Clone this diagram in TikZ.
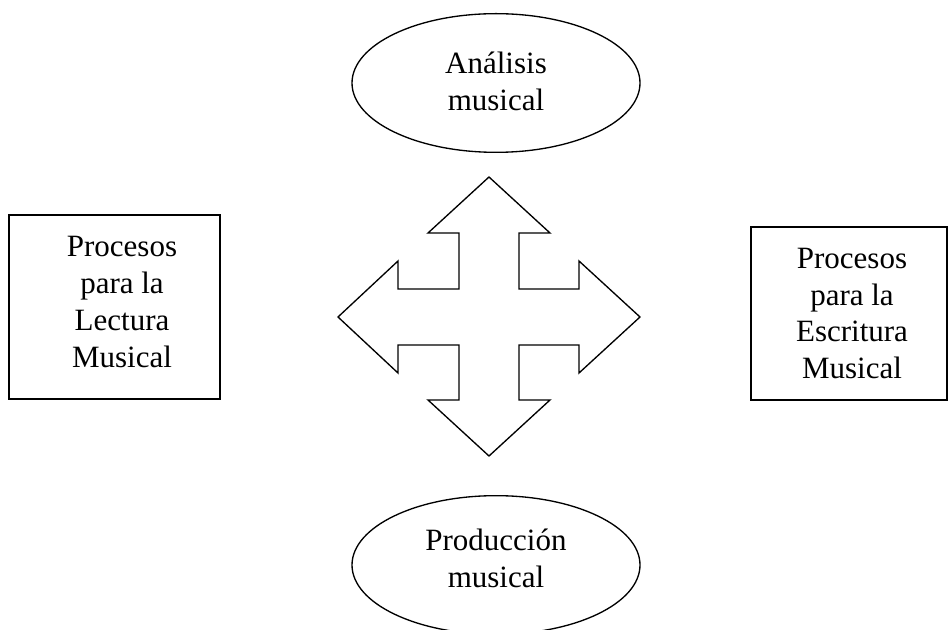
\documentclass[tikz,border=0pt]{standalone}
\usepackage{fontspec}
\setmainfont{Liberation Serif}
\usetikzlibrary{shapes.geometric}
\tikzset{
  txt/.style={align=center, inner sep=0pt, font=\fontsize{23.25}{27.6}\selectfont},
  oval/.style={draw, line width=1pt, ellipse, minimum width=216pt, minimum height=104pt},
  proc/.style={draw, line width=1.2pt, rectangle}
}
\begin{document}
\begin{tikzpicture}[x=0.75pt,y=-0.75pt]
    \useasboundingbox (0,0) rectangle (949,630);
    \clip (0,0) rectangle (949,630);
    % ovals
    \node[oval] (analisis) at (496,83) {};
    \node[txt] (analisistxt) at ([shift={(0,-2)}]analisis.center) {Análisis\\musical};
    \node[oval] (produccion) at (496,565) {};
    \node[txt] (producciontxt) at ([shift={(0,-7)}]produccion.center) {Producción\\musical};
    % boxes
    \node[proc, minimum width=158.25pt, minimum height=138pt] (lectura) at (114.5,307) {};
    \node[txt] (lecturatxt) at ([shift={(7.5,-5)}]lectura.center)
      {Procesos\\para la\\Lectura\\Musical};
    \node[proc, minimum width=147pt, minimum height=129.75pt] (escritura) at (849,313.5) {};
    \node[txt] (escrituratxt) at ([shift={(3,0)}]escritura.center)
      {Procesos\\para la\\Escritura\\Musical};
    % four-way arrow
    \coordinate (c) at (489,317);
    \draw[line width=1pt, line join=miter] (c)
      ++(0,-140) -- ++(61,56) -- ++(-31,0) -- ++(0,56) -- ++(60,0) -- ++(0,-28)
      -- ++(61,56) -- ++(-61,56) -- ++(0,-28) -- ++(-60,0) -- ++(0,55)
      -- ++(31,0) -- ++(-61,56) -- ++(-61,-56) -- ++(31,0) -- ++(0,-55)
      -- ++(-61,0) -- ++(0,28) -- ++(-60,-56) -- ++(60,-56) -- ++(0,28)
      -- ++(61,0) -- ++(0,-56) -- ++(-31,0) -- cycle;
\end{tikzpicture}
\end{document}
